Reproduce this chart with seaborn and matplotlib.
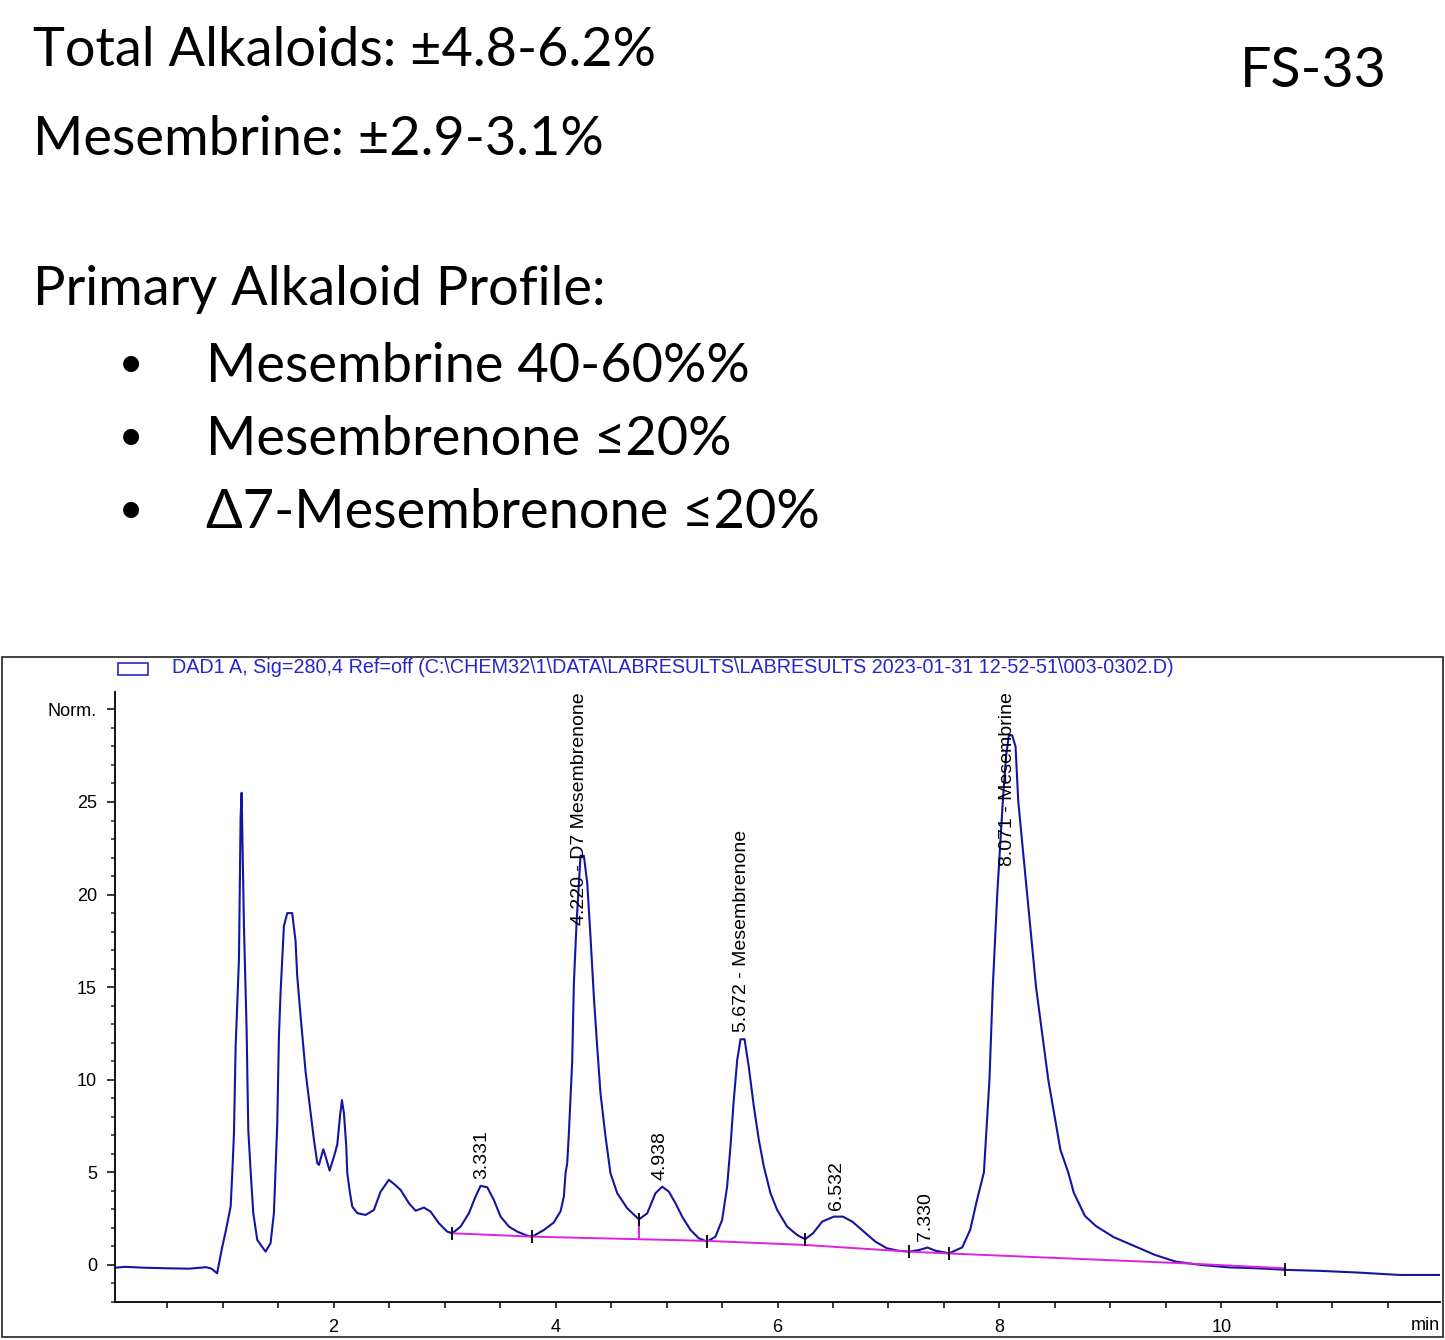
import matplotlib
matplotlib.use("Agg")
import matplotlib.pyplot as plt
import seaborn as sns
import numpy as np
import pandas as pd
from matplotlib.patches import Rectangle
from matplotlib.ticker import MultipleLocator, FixedLocator

# ---------------- data ----------------
summary_lines = ["Total Alkaloids: ±4.8-6.2%", "Mesembrine: ±2.9-3.1%"]
profile_title = "Primary Alkaloid Profile:"
profile_items = ["Mesembrine 40-60%%", "Mesembrenone ≤20%", "Δ7-Mesembrenone ≤20%"]
sample_code = "FS-33"

chart_title = ("DAD1 A, Sig=280,4 Ref=off (C:\\CHEM32\\1\\DATA\\LABRESULTS\\LABRESULTS "
               "2023-01-31 12-52-51\\003-0302.D)")

trace_time = [0.03, 0.12, 0.30, 0.50, 0.70, 0.85, 0.90, 0.95, 0.997, 1.027, 1.072, 1.087,
              1.102, 1.117, 1.147, 1.162, 1.171, 1.192, 1.216, 1.231, 1.252, 1.276, 1.312,
              1.387, 1.432, 1.462, 1.492, 1.507, 1.522, 1.552, 1.582, 1.627, 1.657, 1.672,
              1.703, 1.748, 1.793, 1.823, 1.853, 1.868, 1.907, 1.928, 1.964, 2.003, 2.033,
              2.057, 2.075, 2.093, 2.114, 2.123, 2.147, 2.168, 2.213, 2.288, 2.363, 2.423,
              2.498, 2.559, 2.604, 2.679, 2.739, 2.814, 2.874, 2.949, 3.024, 3.069, 3.144,
              3.219, 3.279, 3.324, 3.384, 3.444, 3.505, 3.580, 3.655, 3.745, 3.790, 3.895,
              3.985, 4.045, 4.075, 4.090, 4.105, 4.120, 4.150, 4.165, 4.189, 4.210, 4.225,
              4.255, 4.286, 4.315, 4.345, 4.375, 4.405, 4.450, 4.495, 4.556, 4.646, 4.751,
              4.826, 4.900, 4.961, 5.021, 5.081, 5.141, 5.216, 5.291, 5.366, 5.441, 5.501,
              5.546, 5.576, 5.606, 5.637, 5.667, 5.703, 5.741, 5.787, 5.832, 5.877, 5.937,
              5.997, 6.087, 6.177, 6.249, 6.320, 6.402, 6.508, 6.590, 6.674, 6.778, 6.882,
              6.986, 7.090, 7.186, 7.277, 7.352, 7.423, 7.547, 7.665, 7.736, 7.798, 7.860,
              7.910, 7.940, 7.980, 8.030, 8.060, 8.085, 8.115, 8.145, 8.170, 8.250, 8.330,
              8.440, 8.550, 8.620, 8.670, 8.770, 8.870, 9.030, 9.194, 9.402, 9.589, 9.818,
              10.07, 10.32, 10.61, 10.90, 11.23, 11.61, 11.97]
trace_signal = [-0.15, -0.10, -0.15, -0.18, -0.20, -0.12, -0.20, -0.45, 0.99, 1.8, 3.15, 4.97,
                7.1, 11.8, 16.5, 24.2, 25.5, 18.3, 12.7, 7.3, 5.1, 2.8, 1.35,
                0.72, 1.18, 2.8, 7.6, 12.3, 14.7, 18.3, 19.0, 19.0, 17.5, 15.6,
                13.4, 10.4, 8.2, 6.75, 5.5, 5.4, 6.25, 5.85, 5.1, 5.85, 6.5,
                8.0, 8.9, 8.2, 6.4, 4.97, 3.9, 3.15, 2.8, 2.7, 2.97, 3.95,
                4.6, 4.3, 4.05, 3.33, 2.93, 3.1, 2.88, 2.25, 1.8, 1.71, 2.07,
                2.79, 3.69, 4.27, 4.2, 3.51, 2.61, 2.07, 1.8, 1.58, 1.53, 1.89,
                2.3, 2.9, 3.69, 4.95, 5.5, 7.11, 11.0, 15.2, 18.45, 20.6, 22.1,
                22.1, 20.6, 17.7, 14.5, 11.8, 9.27, 6.94, 4.95, 3.87, 3.06, 2.46,
                2.79, 3.87, 4.23, 3.96, 3.33, 2.61, 1.89, 1.44, 1.26, 1.53, 2.43,
                4.23, 6.39, 8.91, 11.07, 12.19, 12.19, 10.7, 8.55, 6.75, 5.31, 3.87,
                2.97, 2.07, 1.62, 1.39, 1.71, 2.34, 2.61, 2.61, 2.34, 1.80, 1.26,
                0.90, 0.77, 0.72, 0.81, 0.94, 0.77, 0.63, 0.95, 1.89, 3.51, 5.0,
                10.0, 15.0, 20.0, 25.0, 27.5, 28.6, 28.6, 28.0, 25.0, 20.0, 15.0,
                10.0, 6.2, 5.0, 3.9, 2.65, 2.1, 1.50, 1.08, 0.54, 0.18, 0.0,
                -0.13, -0.18, -0.27, -0.32, -0.41, -0.54, -0.54]

baseline_time = [3.069, 3.790, 5.366, 6.249, 7.186, 7.547, 9.660, 10.570]
baseline_signal = [1.71, 1.53, 1.30, 1.08, 0.72, 0.62, 0.09, -0.18]

drop_time = [4.751]
event_times = [3.069, 3.790, 4.751, 5.366, 6.249, 7.186, 7.547, 10.570]

peak_rt = [3.331, 4.220, 4.938, 5.672, 6.532, 7.330, 8.071]
peak_apex = [4.27, 22.1, 4.23, 12.19, 2.61, 0.94, 28.6]
peak_text = ["3.331", "4.220 - D7 Mesembrenone", "4.938", "5.672 - Mesembrenone",
             "6.532", "7.330", "8.071 - Mesembrine"]

x_major = [2, 4, 6, 8, 10]
y_major = [0, 5, 10, 15, 20, 25, 30]
y_labels = ["0", "5", "10", "15", "20", "25", "Norm."]

# ---------------- style ----------------
W, H = 1445, 1340
def fx(px): return px / W
def fy(py): return 1 - py / H

sns.set_style("white")
plt.rcParams["font.family"] = ["Lato", "DejaVu Sans"]
plt.rcParams["text.color"] = "black"
DOC_FONT = ["Lato", "DejaVu Sans"]
CHART_FONT = ["Liberation Sans", "DejaVu Sans"]
TRACE = "#1414a0"
TITLE_BLUE = "#2626c9"
MAGENTA = "#dd22dd"

fig = plt.figure(figsize=(14.45, 13.40), dpi=100)
renderer = fig.canvas.get_renderer()

def fit_width(t, target_px):
    w = t.get_window_extent(renderer).width
    t.set_fontsize(t.get_fontsize() * target_px / w)
    return t.get_fontsize()

# ---------------- document text ----------------
t0 = fig.text(fx(33), fy(66), summary_lines[0], fontsize=40, family=DOC_FONT,
              va="baseline", color="black")
body_size = fit_width(t0, 624)
fig.text(fx(33), fy(155), summary_lines[1], fontsize=body_size, family=DOC_FONT,
         va="baseline", color="black")
fig.text(fx(33), fy(305), profile_title, fontsize=body_size, family=DOC_FONT,
         va="baseline", color="black")
for i, item in enumerate(profile_items):
    base = 382 + 73 * i
    fig.text(fx(206), fy(base), item, fontsize=body_size, family=DOC_FONT,
             va="baseline", color="black")
    fig.text(fx(131), fy(base - 19), "●", fontsize=15, family=["DejaVu Sans"],
             ha="center", va="center", color="black")
tc = fig.text(fx(1240), fy(87), sample_code, fontsize=44, family=DOC_FONT,
              va="baseline", color="black")
fit_width(tc, 147)

# ---------------- chromatogram frame & title ----------------
fig.patches.append(Rectangle((fx(2), fy(1337)), 1441 / W, 680 / H, fill=False,
                             edgecolor="#222222", lw=1.2, transform=fig.transFigure))
fig.patches.append(Rectangle((fx(118), fy(675)), 30 / W, 12 / H, fill=False,
                             edgecolor=TITLE_BLUE, lw=1.2, transform=fig.transFigure))
tt = fig.text(fx(172), fy(668), chart_title, fontsize=12, family=CHART_FONT,
              color=TITLE_BLUE, va="center")
fit_width(tt, 998)

ax = fig.add_axes([fx(115), fy(1302), (1440 - 115) / W, (1302 - 692) / H])
ax.set_facecolor("white")

df = pd.DataFrame({"time": trace_time, "signal": trace_signal})
sns.lineplot(data=df, x="time", y="signal", ax=ax, color=TRACE, lw=1.5,
             sort=False, estimator=None)
sns.lineplot(x=baseline_time, y=baseline_signal, ax=ax, color=MAGENTA, lw=1.4,
             sort=False, estimator=None)
for d in drop_time:
    ax.vlines(d, np.interp(d, baseline_time, baseline_signal), np.interp(d, trace_time, trace_signal),
              color=MAGENTA, lw=1.4)
ev_levels = np.interp(event_times, trace_time, trace_signal)
ax.vlines(event_times, ev_levels - 0.35, ev_levels + 0.35, color="black", lw=1.3)

ax.set_xlim(0.03, 11.97)
ax.set_ylim(-2.0, 30.94)
ax.set_xlabel("")
ax.set_ylabel("")
sns.despine(ax=ax)
for s in ("left", "bottom"):
    ax.spines[s].set_color("black")
    ax.spines[s].set_linewidth(1.3)

ax.xaxis.set_major_locator(FixedLocator(x_major))
ax.xaxis.set_minor_locator(MultipleLocator(0.5))
ax.set_yticks(y_major)
ax.set_yticklabels(y_labels)
ax.yaxis.set_minor_locator(MultipleLocator(1))
ax.tick_params(axis="x", which="both", direction="out", length=4, width=1.1,
               bottom=True, colors="black", labelsize=13, pad=8)
ax.tick_params(axis="y", which="major", direction="out", length=6, width=1.1,
               left=True, colors="black", labelsize=13, pad=7)
ax.tick_params(axis="y", which="minor", direction="out", length=3, width=1.1, left=True)
for lab in ax.get_xticklabels() + ax.get_yticklabels():
    lab.set_family(CHART_FONT)
fig.text(fx(1440), fy(1326), "min", fontsize=13, family=CHART_FONT, ha="right",
         va="center", color="black")

ax_top = ax.get_window_extent(renderer).y1
for rt, ap, txt in zip(peak_rt, peak_apex, peak_text):
    a = ax.annotate(txt, xy=(rt, ap), xytext=(0, 5), textcoords="offset points",
                    rotation=90, ha="center", va="bottom", fontsize=14,
                    family=CHART_FONT, color="black")
    if a.get_window_extent(renderer).y1 > ax_top:
        a.remove()
        ax.text(rt, 30.94, txt, rotation=90, ha="center", va="top", fontsize=14,
                family=CHART_FONT, color="black")

fig.savefig("out.png", dpi=100)
